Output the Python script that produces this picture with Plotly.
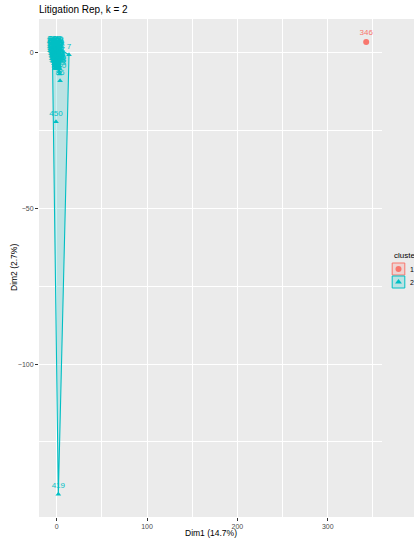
import plotly.graph_objects as go

# ---- cluster 1 (single observation) ----
c1_x = [342.5]
c1_y = [3.5]
c1_lab = ["346"]

# ---- cluster 2 ----
c2_x = [
    -4.6, -3.7, -3.1, -2.1, -1.5, -0.5, 0.3,
    -4.8, -4.1, -3.3, -2.5, -1.7, -0.9, 0.1, 0.7,
    -4.7, -3.8, -3.0, -2.4, -1.4, -0.6, 0.2, 1.0,
    -4.5, -3.9, -2.9, -2.2, -1.3, -0.7, 0.3, 1.1,
    -4.3, -3.5, -2.8, -1.9, -1.2, -0.3, 0.5, 1.3,
    -3.9, -3.2, -2.5, -1.6, -0.8, 0.1, 0.9, 1.7,
    -3.5, -2.7, -2.0, -1.1, -0.3, 0.5, 1.3, 2.1,
    -3.1, -2.3, -1.6, -0.7, 0.1, 0.9, 1.7, 2.5,
    -2.7, -1.9, -1.1, -0.4, 0.5, 1.3, 2.1, 2.9,
    -2.3, -1.3, -0.3, 0.7, 1.6, 2.7, 3.4,
    2.8, 3.2, 3.7, 13.6, -0.8, 1.8,
]
c2_y = [
    1.8, 1.7, 1.9, 1.8, 1.6, 1.9, 1.7,
    1.2, 1.1, 1.3, 1.0, 1.2, 1.1, 1.3, 1.0,
    0.5, 0.4, 0.6, 0.3, 0.5, 0.6, 0.4, 0.5,
    -0.2, -0.3, -0.1, -0.2, -0.4, -0.1, -0.3, -0.2,
    -1.0, -0.9, -1.1, -1.0, -0.8, -1.1, -0.9, -1.0,
    -1.8, -1.7, -1.9, -1.8, -1.6, -1.9, -1.8, -1.7,
    -2.6, -2.5, -2.7, -2.6, -2.4, -2.7, -2.5, -2.6,
    -3.4, -3.3, -3.5, -3.4, -3.2, -3.5, -3.4, -3.3,
    -4.2, -4.1, -4.3, -4.2, -4.0, -4.3, -4.1, -4.2,
    -5.0, -4.9, -5.1, -5.0, -4.8, -5.1, -5.0,
    -6.0, -6.8, -8.9, -0.6, -22.1, -141.8,
]
c2_lab = [
    "12", "105", "233", "318", "41", "176", "402",
    "58", "129", "264", "377", "93", "211", "305", "144",
    "27", "190", "352", "66", "248", "431", "115", "289",
    "38", "157", "296", "73", "219", "368", "102", "245",
    "19", "138", "276", "84", "325", "197", "441", "61",
    "150", "229", "312", "47", "183", "390", "122", "257",
    "34", "168", "301", "79", "236", "415", "110", "283",
    "52", "197", "340", "95", "222", "363", "136", "271",
    "15", "161", "294", "88", "207", "356", "127", "260",
    "44", "173", "309", "99", "240", "385", "118",
    "253", "330", "86", "7", "450", "419",
]

RED = "#F8766D"
CYAN = "#00BFC4"
FONT = "Liberation Sans, Arial, sans-serif"


def convex_hull(xs, ys):
    pts = sorted(set(zip(xs, ys)))

    def cross(o, a, b):
        return (a[0] - o[0]) * (b[1] - o[1]) - (a[1] - o[1]) * (b[0] - o[0])

    lower, upper = [], []
    for p in pts:
        while len(lower) >= 2 and cross(lower[-2], lower[-1], p) <= 0:
            lower.pop()
        lower.append(p)
    for p in reversed(pts):
        while len(upper) >= 2 and cross(upper[-2], upper[-1], p) <= 0:
            upper.pop()
        upper.append(p)
    hull = lower[:-1] + upper[:-1]
    hull.append(hull[0])
    return [p[0] for p in hull], [p[1] for p in hull]


hx, hy = convex_hull(c2_x, c2_y)

fig = go.Figure()

# cluster 2 hull
fig.add_trace(go.Scatter(
    x=hx, y=hy, mode="lines", fill="toself",
    fillcolor="rgba(0,191,196,0.2)",
    line=dict(color=CYAN, width=1.1),
    hoverinfo="skip", showlegend=False,
))

# cluster 2 points + labels
fig.add_trace(go.Scatter(
    x=c2_x, y=c2_y, mode="markers+text",
    marker=dict(symbol="triangle-up", size=5, color=CYAN),
    text=c2_lab, textposition="top center",
    textfont=dict(family=FONT, size=8, color=CYAN),
    showlegend=False, cliponaxis=False,
))

# cluster 1 point + label
fig.add_trace(go.Scatter(
    x=c1_x, y=c1_y, mode="markers+text",
    marker=dict(symbol="circle", size=6, color=RED),
    text=c1_lab, textposition="top center",
    textfont=dict(family=FONT, size=8, color=RED),
    showlegend=False, cliponaxis=False,
))

W, H = 414, 541
L, R, T, B = 39, 0, 19, 24
panel_right = 382
dom = (panel_right - L) / (W - L - R)

# legend keys (drawn on a helper axis living in the right margin, pixel units)
key_cx = 398.5
key_cy = [269, 282]
fig.add_trace(go.Scatter(
    x=[key_cx], y=[key_cy[0]], xaxis="x2", yaxis="y2", mode="markers",
    marker=dict(symbol="circle", size=6, color=RED),
    showlegend=False, hoverinfo="skip", cliponaxis=False,
))
fig.add_trace(go.Scatter(
    x=[key_cx], y=[key_cy[1]], xaxis="x2", yaxis="y2", mode="markers",
    marker=dict(symbol="triangle-up", size=6, color=CYAN),
    showlegend=False, hoverinfo="skip", cliponaxis=False,
))

shapes = []
for cy, col, fill in [(key_cy[0], RED, "rgba(248,118,109,0.2)"),
                      (key_cy[1], CYAN, "rgba(0,191,196,0.2)")]:
    shapes.append(dict(
        type="rect", xref="x2", yref="y2",
        x0=key_cx - 6.3, x1=key_cx + 6.3, y0=cy - 6.0, y1=cy + 6.0,
        line=dict(color=col, width=1), fillcolor=fill, layer="below",
    ))

annotations = [
    dict(text="cluster", xref="x2", yref="y2", x=391.5, y=255,
         xanchor="left", yanchor="middle", showarrow=False,
         font=dict(family=FONT, size=8, color="black")),
    dict(text="1", xref="x2", yref="y2", x=407.5, y=key_cy[0],
         xanchor="left", yanchor="middle", showarrow=False,
         font=dict(family=FONT, size=7, color="black")),
    dict(text="2", xref="x2", yref="y2", x=407.5, y=key_cy[1],
         xanchor="left", yanchor="middle", showarrow=False,
         font=dict(family=FONT, size=7, color="black")),
    # axis titles
    dict(text="Dim1 (14.7%)", xref="paper", yref="paper",
         x=dom / 2, y=-(533 - (H - B)) / (H - T - B),
         xanchor="center", yanchor="middle", showarrow=False,
         font=dict(family=FONT, size=8.5, color="black")),
    dict(text="Dim2 (2.7%)", xref="paper", yref="paper",
         x=-(L - 14) / (W - L - R), y=0.5, textangle=-90,
         xanchor="center", yanchor="middle", showarrow=False,
         font=dict(family=FONT, size=8.5, color="black")),
]

axis_common = dict(
    showgrid=True, gridcolor="white", gridwidth=1.1,
    zeroline=False, showline=False,
    ticks="outside", ticklen=3, tickwidth=1, tickcolor="#333333",
    tickfont=dict(family=FONT, size=7, color="#4D4D4D"),
)

fig.update_layout(
    width=W, height=H,
    margin=dict(l=L, r=R, t=T, b=B, pad=0),
    paper_bgcolor="white", plot_bgcolor="#EBEBEB",
    font=dict(family=FONT),
    title=dict(text="Litigation Rep, k = 2", x=L / W, xanchor="left",
               xref="container", y=1 - 9 / H, yanchor="middle",
               yref="container",
               font=dict(family=FONT, size=10, color="black")),
    xaxis=dict(
        **axis_common, domain=[0, dom], range=[-19.6, 360.0],
        tickvals=[0, 100, 200, 300],
        minor=dict(dtick=50, tick0=0, showgrid=True, gridcolor="white",
                   gridwidth=0.5, ticks=""),
    ),
    yaxis=dict(
        **axis_common, range=[-149.1, 10.9],
        tickvals=[0, -50, -100],
        minor=dict(dtick=25, tick0=0, showgrid=True, gridcolor="white",
                   gridwidth=0.5, ticks=""),
    ),
    xaxis2=dict(domain=[dom, 1], range=[panel_right, W], anchor="y2",
                visible=False, fixedrange=True),
    yaxis2=dict(domain=[0, 1], range=[H - B, T], anchor="x2",
                visible=False, fixedrange=True),
    shapes=shapes,
    annotations=annotations,
    showlegend=False,
)

fig.write_html("out.html")
